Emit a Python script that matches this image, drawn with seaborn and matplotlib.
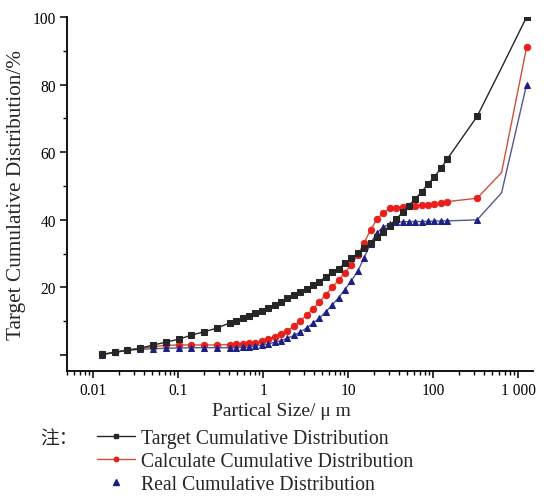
import matplotlib
matplotlib.use("Agg")
import matplotlib.pyplot as plt
import seaborn as sns
from matplotlib.lines import Line2D
from matplotlib.ticker import FixedLocator, LogLocator, NullFormatter

# Particle size classes (µm)
size_um = [0.0127, 0.018, 0.0254, 0.0359, 0.0508, 0.0718, 0.1016, 0.1437, 0.2032,
           0.2874, 0.4064, 0.4833, 0.5747, 0.6834, 0.8128, 0.9666, 1.149, 1.367,
           1.626, 1.933, 2.299, 2.734, 3.251, 3.866, 4.598, 5.468, 6.502, 7.732,
           9.195, 10.93, 13.0, 15.47, 18.39, 21.87, 26.0, 30.93, 36.78, 43.74,
           52.0, 61.85, 73.56, 87.47, 104.0, 123.7, 147.1, 330.0, 640.0, 1260.0]

# Cumulative distributions (%)
target = [0.2, 0.8, 1.5, 2.0, 3.0, 3.8, 4.7, 5.9, 6.9, 8.0, 9.5, 10.2, 10.9, 11.6,
          12.4, 12.9, 13.9, 14.8, 15.8, 16.8, 17.8, 18.7, 19.7, 20.7, 21.7, 23.2,
          24.5, 25.6, 27.1, 28.6, 30.1, 31.6, 33.1, 35.0, 36.5, 38.3, 40.2, 42.2,
          44.2, 46.2, 48.3, 50.6, 52.8, 55.2, 58.0, 70.6, 85.0, 100.0]
calculated = [0.2, 0.9, 1.5, 2.0, 2.5, 2.9, 3.0, 3.0, 3.0, 3.0, 3.1, 3.2, 3.3, 3.5,
              3.7, 4.1, 4.7, 5.5, 6.2, 7.2, 8.5, 10.0, 11.8, 13.6, 15.7, 17.9,
              20.0, 22.2, 24.4, 26.7, 29.6, 33.2, 37.0, 40.2, 42.1, 43.4, 43.6,
              43.9, 44.1, 44.2, 44.3, 44.5, 44.8, 45.0, 45.4, 46.4, 54.0, 91.0]
real = [0.1, 0.8, 1.4, 1.7, 1.9, 2.0, 2.1, 2.2, 2.2, 2.2, 2.2, 2.2, 2.3, 2.4, 2.7,
        3.0, 3.3, 3.8, 4.3, 5.0, 5.8, 6.8, 8.0, 9.4, 10.9, 12.8, 14.8, 17.0,
        19.4, 22.0, 24.8, 28.8, 33.0, 36.2, 37.8, 38.8, 39.3, 39.4, 39.5, 39.5,
        39.5, 39.6, 39.6, 39.7, 39.7, 40.0, 48.0, 80.0]

series_labels = ["Target Cumulative Distribution",
                 "Calculate Cumulative Distribution",
                 "Real Cumulative Distribution"]
x_tick_values = [0.01, 0.1, 1, 10, 100, 1000]
x_tick_labels = ["0.01", "0.1", "1", "10", "100", "1 000"]
y_tick_values = [0, 20, 40, 60, 80, 100]
y_tick_labels = ["", "20", "40", "60", "80", "100"]

sns.set_theme(style="ticks")
plt.rcParams["font.family"] = ["Liberation Serif", "Noto Sans CJK SC"]

fig = plt.figure(figsize=(5.54, 5.02), dpi=100, facecolor="white")
ax = fig.add_axes([67 / 554, 1 - 372 / 502, (533 - 67) / 554, (372 - 18) / 502])
ax.set_facecolor("white")

# the 640 µm vertex is drawn as a line vertex only
marked = [i for i in range(len(size_um)) if i != 46]

black = "#262626"
red_line = "#d0503a"
red_mk = "#e8201c"
navy_line = "#55578f"
navy_mk = "#1c1f85"

sns.lineplot(x=size_um, y=target, ax=ax, estimator=None, sort=False,
             color=black, lw=1.0, marker="s", ms=4, mfc=black, mec=black,
             markevery=marked, zorder=3)
sns.lineplot(x=size_um, y=calculated, ax=ax, estimator=None, sort=False,
             color=red_line, lw=1.0, marker="o", ms=4.6, mfc=red_mk, mec=red_mk,
             markevery=marked, zorder=2)
sns.lineplot(x=size_um, y=real, ax=ax, estimator=None, sort=False,
             color=navy_line, lw=1.0, marker="^", ms=5, mfc=navy_mk, mec=navy_mk,
             markevery=marked, zorder=2)

ax.set_xscale("log")
ax.set_xlim(10 ** -2.306, 10 ** 3.176)
ax.set_ylim(-4.7, 100)

ax.xaxis.set_major_locator(FixedLocator(x_tick_values))
ax.set_xticklabels(x_tick_labels)
ax.xaxis.set_minor_locator(LogLocator(base=10, subs=range(2, 10), numticks=20))
ax.xaxis.set_minor_formatter(NullFormatter())
ax.yaxis.set_major_locator(FixedLocator(y_tick_values))
ax.set_yticklabels(y_tick_labels)
ax.yaxis.set_minor_locator(FixedLocator([10, 30, 50, 70, 90]))

for side in ("top", "right"):
    ax.spines[side].set_visible(False)
for side in ("left", "bottom"):
    ax.spines[side].set_linewidth(1.3)
    ax.spines[side].set_color("black")

ax.tick_params(which="major", direction="out", length=5, width=1.1,
               colors="black", labelsize=11.2, pad=3)
ax.tick_params(which="minor", direction="out", length=3, width=1.0, colors="black")
ax.set_xlabel("")
ax.set_ylabel("")

fig.text(281 / 554, 1 - 411 / 502, "Partical Size/ μ m", ha="center", va="center",
         fontsize=14)
fig.text(17 / 554, 1 - 195 / 502, "Target Cumulative Distribution/%", ha="center",
         va="center", rotation=90, fontsize=15.3)
fig.text(40 / 554, 1 - 439 / 502, "注：", ha="left", va="center", fontsize=13.5,
         family=["Noto Sans CJK SC"])

handles = [
    Line2D([], [], color=black, lw=1.0, marker="s", ms=2.8, mfc=black, mec=black),
    Line2D([], [], color=red_line, lw=1.0, marker="o", ms=3.2, mfc=red_mk, mec=red_mk),
    Line2D([], [], ls="none", marker="^", ms=3.8, mfc=navy_mk, mec=navy_mk),
]
fig.legend(handles, series_labels, loc="upper left",
           bbox_to_anchor=(97 / 554, 1 - 430 / 502), frameon=False, fontsize=14.2,
           handlelength=1.95, handletextpad=0.26, labelspacing=0.2,
           borderpad=0, borderaxespad=0)

fig.savefig("out.png", dpi=100, facecolor="white")
